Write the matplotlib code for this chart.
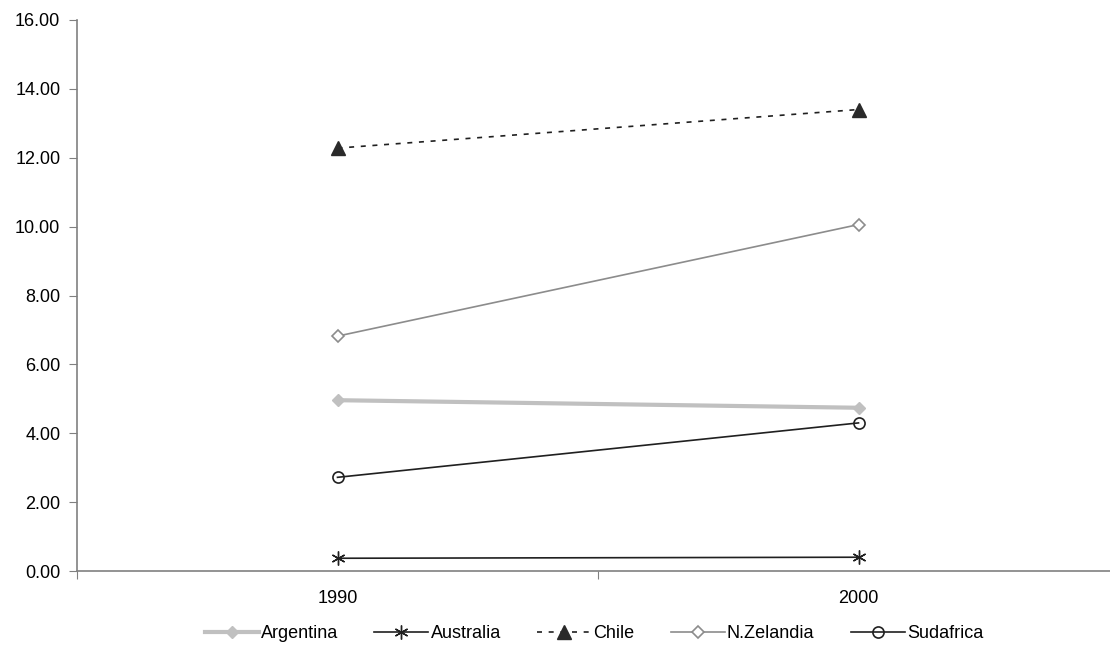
import matplotlib.pyplot as plt
import numpy as np

plt.rcParams['font.family'] = ['Liberation Sans', 'DejaVu Sans']

years = ['1990', '2000']
argentina = [4.96, 4.74]
australia = [0.37, 0.40]
chile = [12.28, 13.40]
nzelandia = [6.82, 10.06]
sudafrica = [2.72, 4.30]

fig = plt.figure(figsize=(11.1, 6.46), dpi=100)
ax = fig.add_axes([77 / 1110, 1 - 571 / 646, 1042 / 1110, (571 - 20) / 646])

x = np.arange(len(years))
ax.plot(x, argentina, color='#c0c0c0', lw=3, marker='D', ms=6, mfc='#c0c0c0', mec='#c0c0c0', label='Argentina')
ax.plot(x, australia, color='#202020', lw=1.2, marker=(6, 2, 0), ms=10, mew=1.0, label='Australia')
ax.plot(x, chile, color='#202020', lw=1.2, ls=(0, (3, 4)), marker='^', ms=10, mfc='#2a2a2a', mec='#2a2a2a', label='Chile')
ax.plot(x, nzelandia, color='#8c8c8c', lw=1.2, marker='D', ms=6, mfc='white', mec='#8c8c8c', mew=1.2, label='N.Zelandia')
ax.plot(x, sudafrica, color='#202020', lw=1.2, marker='o', ms=8, mfc='none', mec='#202020', mew=1.2, label='Sudafrica')

ax.set_xlim(-0.5, 1.5)
ax.set_ylim(0, 16)
ax.set_yticks(np.arange(0, 17, 2))
ax.set_yticklabels([f'{v:.2f}' for v in np.arange(0, 17, 2)])
ax.set_xticks([-0.5, 0.5, 1.5])
ax.set_xticklabels([])
ax.set_xticks(x, minor=True)
ax.set_xticklabels(years, minor=True)
ax.tick_params(axis='x', which='minor', length=0, pad=14, labelsize=13)
ax.tick_params(axis='x', which='major', length=6, direction='out', color='#808080')
ax.tick_params(axis='y', length=6, direction='out', color='#808080', pad=6, labelsize=13)

for s in ['top', 'right']:
    ax.spines[s].set_visible(False)
for s in ['left', 'bottom']:
    ax.spines[s].set_color('#808080')
    ax.spines[s].set_linewidth(1.2)

fig.legend(loc='center', bbox_to_anchor=(0.535, 1 - 634 / 646), ncol=5, frameon=False,
           fontsize=13, handlelength=3.0, columnspacing=2.0, handletextpad=0.12)

fig.savefig('out.png', dpi=100)
